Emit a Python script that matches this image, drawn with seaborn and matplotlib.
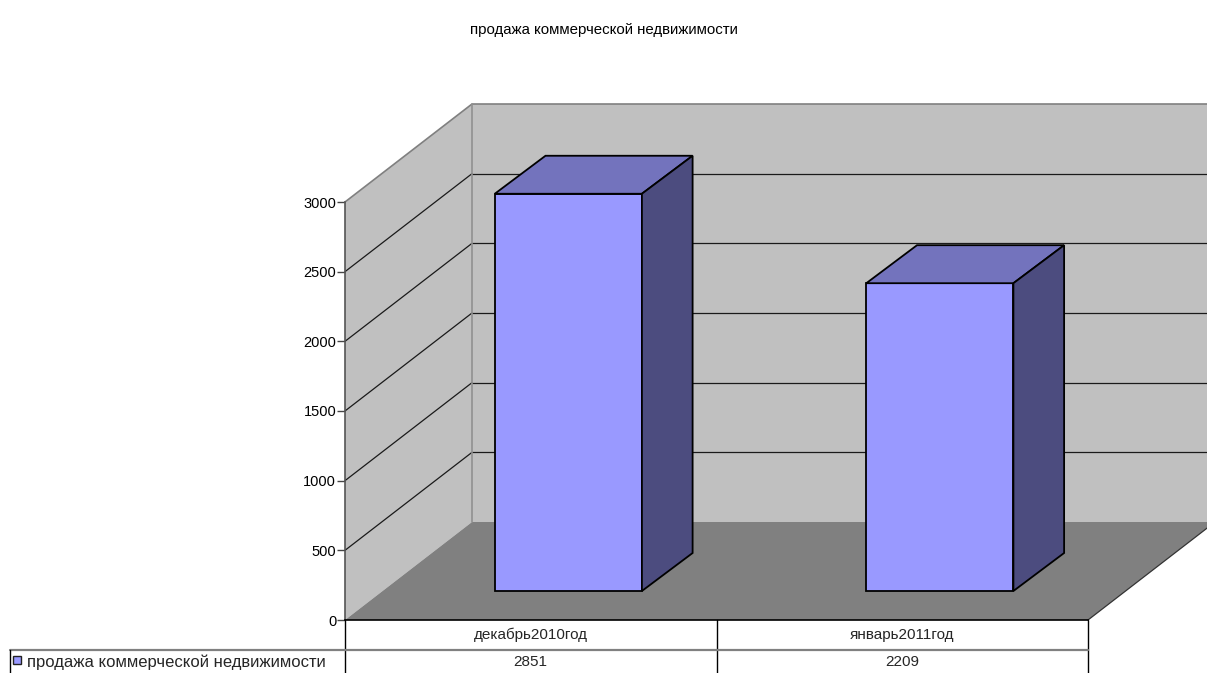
import matplotlib
matplotlib.use("Agg")
import matplotlib.pyplot as plt
from matplotlib.patches import Polygon, Rectangle
from matplotlib.lines import Line2D
from matplotlib.transforms import blended_transform_factory
import seaborn as sns

# ---- data ----
series_name = "продажа коммерческой недвижимости"
categories = ["декабрь2010год", "январь2011год"]
values = [2851, 2209]
yticks = [0, 500, 1000, 1500, 2000, 2500, 3000]

# ---- colours ----
WALL = "#c0c0c0"
FLOOR = "#808080"
FRONT = "#9999ff"
TOP = "#7373bd"
SIDE = "#4c4c7f"

sns.set_theme(style="white")
plt.rcParams["font.family"] = ["Liberation Sans", "DejaVu Sans"]

W, H = 1207, 673
fig = plt.figure(figsize=(W / 100, H / 100), dpi=100)

# value axes: front plane of the 3-D box
L, R, Y0, Y1 = 345, 1088, 620, 202
ax = fig.add_axes([L / W, (H - Y0) / H, (R - L) / W, (Y0 - Y1) / H])
ax.set_xlim(-0.5, len(categories) - 0.5)
ax.set_ylim(yticks[0], yticks[-1])
ax.patch.set_alpha(0)

# pixel -> data helpers
px_x = (len(categories)) / (R - L)
px_y = (yticks[-1] - yticks[0]) / (Y0 - Y1)

def off(dx_px, dy_px):
    return dx_px * px_x, dy_px * px_y

DEPTH = off(127, 98)        # full depth of the box
BAR_FRONT = off(37.6, 29)   # bar front plane inside the depth
BAR_BACK = off(88.3, 67)    # bar back plane

x0, x1 = -0.5, len(categories) - 0.5
vtop = yticks[-1]
dx, dy = DEPTH

# walls and floor
ax.add_patch(Polygon([(x0 + dx, dy), (x1 + dx + 1, dy), (x1 + dx + 1, vtop + dy), (x0 + dx, vtop + dy)],
                     closed=True, facecolor=WALL, edgecolor="none", zorder=0, clip_on=False))
ax.add_patch(Polygon([(x0, 0), (x0, vtop), (x0 + dx, vtop + dy), (x0 + dx, dy)],
                     closed=True, facecolor=WALL, edgecolor="none", zorder=0, clip_on=False))
ax.add_patch(Polygon([(x0, 0), (x1, 0), (x1 + dx, dy), (x0 + dx, dy)],
                     closed=True, facecolor=FLOOR, edgecolor="none", zorder=0.5, clip_on=False))

# gridlines on back and side walls
for v in yticks[1:-1]:
    ax.add_line(Line2D([x0 + dx, x1 + dx + 1], [v + dy, v + dy], color="#1a1a1a", lw=0.9, zorder=1, clip_on=False))
    ax.add_line(Line2D([x0, x0 + dx], [v, v + dy], color="#1a1a1a", lw=0.9, zorder=1, clip_on=False))

# wall borders
ax.add_line(Line2D([x0, x0 + dx, x1 + dx + 1], [vtop, vtop + dy, vtop + dy], color="#808080", lw=1.2, zorder=1, clip_on=False))
ax.add_line(Line2D([x0 + dx, x0 + dx], [dy, vtop + dy], color="#909090", lw=1.2, zorder=1, clip_on=False))
ax.add_line(Line2D([x1, x1 + dx], [0, dy], color="#333333", lw=0.9, zorder=1, clip_on=False))

# bars: front faces via seaborn, then shifted into the box
sns.barplot(x=categories, y=values, ax=ax, width=0.396, color=FRONT,
            saturation=1, edgecolor="black", linewidth=1.3, zorder=3)
ax.set_xlim(-0.5, len(categories) - 0.5)
bfx, bfy = BAR_FRONT
bbx, bby = BAR_BACK
for p in list(ax.patches):
    if not isinstance(p, Rectangle) or p.get_height() <= 0:
        continue
    xl = p.get_x() + bfx
    xr = xl + p.get_width()
    h = p.get_height()
    p.set_x(xl)
    p.set_y(bfy)
    p.set_zorder(3)
    p.set_clip_on(False)
    ddx, ddy = bbx - bfx, bby - bfy
    top = bfy + h
    ax.add_patch(Polygon([(xl, top), (xr, top), (xr + ddx, top + ddy), (xl + ddx, top + ddy)],
                         closed=True, facecolor=TOP, edgecolor="black", lw=1.3, zorder=3, clip_on=False))
    ax.add_patch(Polygon([(xr, bfy), (xr + ddx, bfy + ddy), (xr + ddx, top + ddy), (xr, top)],
                         closed=True, facecolor=SIDE, edgecolor="black", lw=1.3, zorder=3, clip_on=False))

# axes styling
for s in ("top", "right"):
    ax.spines[s].set_visible(False)
ax.spines["left"].set_color("#555555")
ax.spines["left"].set_linewidth(1.2)
ax.spines["bottom"].set_color("black")
ax.spines["bottom"].set_linewidth(1.2)
ax.spines["left"].set_zorder(4)
ax.spines["bottom"].set_zorder(4)
ax.set_yticks(yticks)
ax.set_yticklabels([str(t) for t in yticks], fontsize=10.5, color="black")
ax.set_xticks([])
ax.set_xlabel("")
ax.set_ylabel("")
ax.tick_params(axis="y", length=5.5, width=1, color="#444444", pad=0.8, left=True)

fig.text(604 / W, 1 - 30 / H, series_name, ha="center", va="center", fontsize=10.8, color="black")

# ---- data table below the plot ----
tab = fig.add_axes([0, 0, 1, 1])
tab.set_xlim(0, W)
tab.set_ylim(H, 0)
tab.axis("off")
tab.patch.set_alpha(0)
bt = blended_transform_factory(ax.transData, tab.transData)

ROW1, ROW2, ROW3 = 620, 650, 676
n = len(categories)
for i in range(n + 1):
    tab.add_line(Line2D([i - 0.5, i - 0.5], [ROW1, ROW3], transform=bt, color="black", lw=1.0, clip_on=False))
tab.add_line(Line2D([10, R], [ROW2, ROW2], color="#808080", lw=1.6))
tab.add_line(Line2D([10, 10], [ROW2, ROW3], color="black", lw=1.0))
for i, (c, v) in enumerate(zip(categories, values)):
    tab.text(i, (ROW1 + ROW2) / 2, c, transform=bt, ha="center", va="center", fontsize=11)
    tab.text(i, (ROW2 + ROW3) / 2 - 1, str(v), transform=bt, ha="center", va="center", fontsize=11)
tab.add_patch(Rectangle((13, 656), 8, 8, facecolor=FRONT, edgecolor="#222222", lw=1.0))
tab.text(27, (ROW2 + ROW3) / 2 - 1, series_name, ha="left", va="center", fontsize=12)

fig.savefig("out.png", dpi=100)
